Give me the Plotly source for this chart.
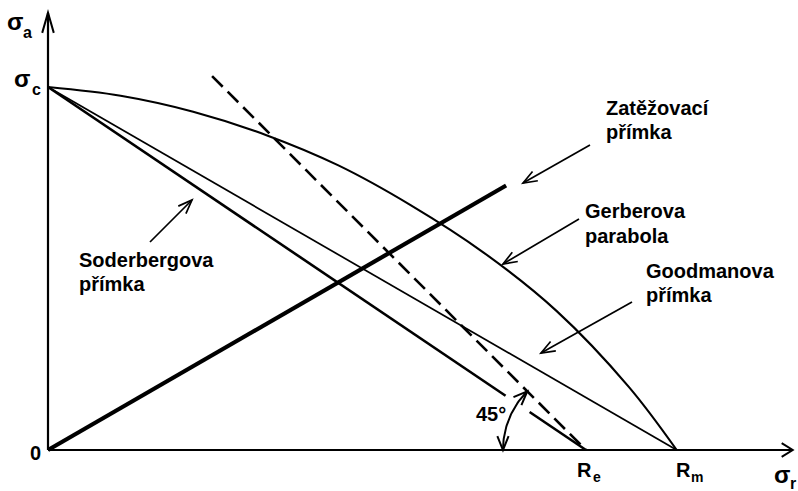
import math
import numpy as np
import plotly.graph_objects as go

# ---- diagram values (units: sigma_c = 100) ----
sigma_c = 100.0          # fatigue limit on the sigma_a axis
R_e = 148.2              # yield strength
R_m = 173.2              # ultimate strength
load_angle_deg = 30.0    # slope of the load line
load_end_x = 126.2       # where the load line stops
safety_angle_deg = 45.0  # dashed line through R_e
safety_top_y = 103.0     # upper end of the dashed line

# Gerber parabola, sampled along the curve
gerber_x = [0, 20, 40, 60, 80, 100, 120, 140, 160, 173.2]
gerber_y = [100, 97.6, 93.2, 86.8, 78.4, 67.4, 54.4, 38.4, 17.4, 0]

curve_names = {
    "load": ["Zatěžovací", "přímka"],
    "gerber": ["Gerberova", "parabola"],
    "goodman": ["Goodmanova", "přímka"],
    "soderberg": ["Soderbergova", "přímka"],
}

# ---- canvas geometry: one data unit = K pixels on both axes ----
W, H = 798, 491
OX, OY = 48, 450         # pixel position of the origin
K = 3.63


def pos(xp, yp):
    """pixel position -> data coordinates"""
    return (xp - OX) / K, (OY - yp) / K


def chevron(tx, ty, ang_deg, barb_px, half_deg):
    L = barb_px / K
    a = math.radians(ang_deg)
    pts = []
    for s in (1, -1):
        b = a + math.pi + s * math.radians(half_deg)
        pts.append((tx + L * math.cos(b), ty + L * math.sin(b)))
    return (f"M{pts[0][0]:.4f},{pts[0][1]:.4f} L{tx:.4f},{ty:.4f} "
            f"L{pts[1][0]:.4f},{pts[1][1]:.4f}")


shapes = []


def add_path(path, width):
    shapes.append(dict(type="path", path=path, xref="x", yref="y",
                       line=dict(color="black", width=width)))


def add_line(x0, y0, x1, y1, width):
    shapes.append(dict(type="line", x0=x0, y0=y0, x1=x1, y1=y1,
                       xref="x", yref="y",
                       line=dict(color="black", width=width)))


fig = go.Figure()

# axes with arrow tips
x_tip = pos(792.7, OY)[0]
y_tip = pos(OX, 12.7)[1]
add_line(0, 0, x_tip, 0, 2.2)
add_line(0, 0, 0, y_tip, 2.2)
add_path(chevron(x_tip, 0, 0, 13, 32), 2.0)
add_path(chevron(0, y_tip, 90, 21, 16), 2.0)

# Soderberg line (interrupted where the 45° arc crosses it)
sod_len = math.hypot(R_e, sigma_c)
ux, uy = -R_e / sod_len, sigma_c / sod_len
gap_near, gap_far = 68 / K, 97 / K
sx = [0, R_e + ux * gap_far, None, R_e + ux * gap_near, R_e]
sy = [sigma_c, uy * gap_far, None, uy * gap_near, 0]
fig.add_trace(go.Scatter(x=sx, y=sy, mode="lines",
                         line=dict(color="black", width=2.6), hoverinfo="skip"))

# Goodman line
fig.add_trace(go.Scatter(x=[0, R_m], y=[sigma_c, 0], mode="lines",
                         line=dict(color="black", width=1.7), hoverinfo="skip"))

# Gerber parabola
fig.add_trace(go.Scatter(x=gerber_x, y=gerber_y, mode="lines",
                         line=dict(color="black", width=2.1, shape="spline",
                                   smoothing=1.0), hoverinfo="skip"))

# load line
fig.add_trace(go.Scatter(
    x=[0, load_end_x],
    y=[0, load_end_x * math.tan(math.radians(load_angle_deg))],
    mode="lines", line=dict(color="black", width=4.2), hoverinfo="skip"))

# dashed 45° line through R_e
run = safety_top_y / math.tan(math.radians(safety_angle_deg))
fig.add_trace(go.Scatter(x=[R_e - run, R_e], y=[safety_top_y, 0], mode="lines",
                         line=dict(color="black", width=2.6, dash="15px,7px"),
                         hoverinfo="skip"))

# 45° angle arc with arrows at both ends
r_arc = 83 / K
th = np.radians(np.linspace(180, 180 - safety_angle_deg, 40))
fig.add_trace(go.Scatter(x=R_e + r_arc * np.cos(th), y=r_arc * np.sin(th),
                         mode="lines", line=dict(color="black", width=2.0),
                         hoverinfo="skip"))
add_path(chevron(R_e - r_arc, 0, -90, 15, 22), 2.0)
a_end = math.radians(180 - safety_angle_deg)
add_path(chevron(R_e + r_arc * math.cos(a_end), r_arc * math.sin(a_end),
                 safety_angle_deg, 15, 22), 2.0)

# leader arrows for the curve names
leaders = [((590, 145), (523, 183)),
           ((579, 219), (503, 264)),
           ((632, 302), (541, 353)),
           ((150, 242), (192, 200))]
for (tp, hp) in leaders:
    x0, y0 = pos(*tp)
    x1, y1 = pos(*hp)
    add_line(x0, y0, x1, y1, 1.7)
    ang = math.degrees(math.atan2(y1 - y0, x1 - x0))
    add_path(chevron(x1, y1, ang, 15, 21), 1.7)

annotations = []
FONT = "Liberation Sans"


def label(text, left_px, base_px, size, pad=1):
    x, y = pos(left_px - 1 - pad, base_px - 0.345 * size)
    annotations.append(dict(x=x, y=y, xref="x", yref="y", text=text,
                            showarrow=False, xanchor="left", yanchor="middle",
                            borderpad=pad,
                            font=dict(family=FONT, size=size, color="black",
                                      weight="bold")))


# curve names
label(curve_names["load"][0], 606, 115, 20)
label(curve_names["load"][1], 606, 139, 20)
label(curve_names["gerber"][0], 585, 218, 20)
label(curve_names["gerber"][1], 585, 243, 20)
label(curve_names["goodman"][0], 646, 278, 20)
label(curve_names["goodman"][1], 646, 302, 20)
label(curve_names["soderberg"][0], 79, 267, 20)
label(curve_names["soderberg"][1], 79, 291, 20)
label(f"{safety_angle_deg:.0f}°", 476, 421, 20)

# axis symbols
label("σ", 7, 30, 24)
label("a", 23, 38, 16)
label("σ", 14, 87, 24)
label("c", 32, 95, 16)
label("0", 30, 460, 20)
label("R", 577, 477, 20)
label("e", 593, 482, 14)
label("R", 676, 477, 20)
label("m", 691, 482, 14)
label("σ", 774, 483, 24, pad=0)
label("r", 790, 489, 16, pad=0)

xr = [-OX / K, (W - OX) / K]
yr = [-(H - OY) / K, OY / K]
fig.update_layout(
    width=W, height=H,
    margin=dict(l=0, r=0, t=0, b=0),
    paper_bgcolor="white", plot_bgcolor="white",
    showlegend=False,
    xaxis=dict(range=xr, visible=False, fixedrange=True),
    yaxis=dict(range=yr, visible=False, fixedrange=True),
    shapes=shapes, annotations=annotations,
)

fig.write_html("out.html")
